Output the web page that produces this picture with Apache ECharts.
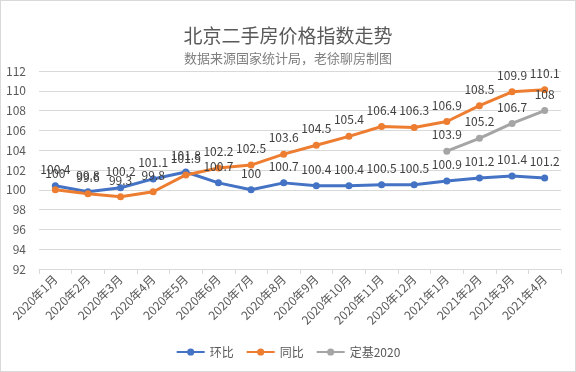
<!DOCTYPE html>
<html>
<head>
<meta charset="utf-8">
<script src="https://cdn.jsdelivr.net/npm/echarts@6/dist/echarts.min.js"></script>
<style>
html,body{margin:0;padding:0;background:#fff;}
#c{width:576px;height:372px;box-sizing:border-box;border:1px solid #d9d9d9;}
</style>
</head>
<body>
<div id="c"></div>
<script>
var categories = ['2020年1月','2020年2月','2020年3月','2020年4月','2020年5月','2020年6月','2020年7月','2020年8月','2020年9月','2020年10月','2020年11月','2020年12月','2021年1月','2021年2月','2021年3月','2021年4月'];
var huanbi = [100.4, 99.8, 100.2, 101.1, 101.8, 100.7, 100, 100.7, 100.4, 100.4, 100.5, 100.5, 100.9, 101.2, 101.4, 101.2];
var tongbi = [100, 99.6, 99.3, 99.8, 101.5, 102.2, 102.5, 103.6, 104.5, 105.4, 106.4, 106.3, 106.9, 108.5, 109.9, 110.1];
var dingji = [null, null, null, null, null, null, null, null, null, null, null, null, 103.9, 105.2, 106.7, 108];
var seriesNames = ['环比', '同比', '定基2020'];
var colors = ['#4472C4', '#ED7D31', '#A5A5A5'];

var FONT = '"Noto Sans CJK SC", "Noto Sans", sans-serif';
function mk(name, data, color) {
  return {
    name: name, type: 'line', data: data,
    symbol: 'circle', symbolSize: 7,
    lineStyle: {width: 3, color: color},
    itemStyle: {color: color},
    label: {show: true, position: 'top', distance: 7, color: '#404040', fontSize: 12, fontFamily: FONT},
    connectNulls: false
  };
}
var chart = echarts.init(document.getElementById('c'), null, {renderer: 'canvas'});
chart.setOption({
  animation: false,
  textStyle: {fontFamily: FONT},
  title: [
    {text: '北京二手房价格指数走势', left: 'center', top: 20, textStyle: {fontSize: 19, fontWeight: 'normal', color: '#595959', fontFamily: FONT}},
    {text: '数据来源国家统计局，老徐聊房制图', left: 'center', top: 46, textStyle: {fontSize: 13, fontWeight: 'normal', color: '#7f7f7f', fontFamily: FONT}}
  ],
  legend: {
    bottom: 8, left: 'center', itemWidth: 28, itemHeight: 9, itemGap: 12,
    textStyle: {color: '#595959', fontSize: 12, fontFamily: FONT},
    data: seriesNames
  },
  grid: {left: 38, right: 14, top: 70, bottom: 102, containLabel: false},
  xAxis: {
    type: 'category', data: categories, boundaryGap: true,
    axisLine: {lineStyle: {color: '#d9d9d9'}},
    axisTick: {show: true, length: 5, lineStyle: {color: '#d9d9d9'}},
    axisLabel: {rotate: 45, color: '#595959', fontSize: 12, margin: 8, interval: 0, fontFamily: FONT}
  },
  yAxis: {
    type: 'value', min: 92, max: 112, interval: 2,
    axisLine: {show: false}, axisTick: {show: false},
    splitLine: {lineStyle: {color: '#d9d9d9'}},
    axisLabel: {color: '#595959', fontSize: 12, margin: 13, fontFamily: FONT}
  },
  series: [
    mk(seriesNames[0], huanbi, colors[0]),
    mk(seriesNames[1], tongbi, colors[1]),
    mk(seriesNames[2], dingji, colors[2])
  ]
});
</script>
</body>
</html>
